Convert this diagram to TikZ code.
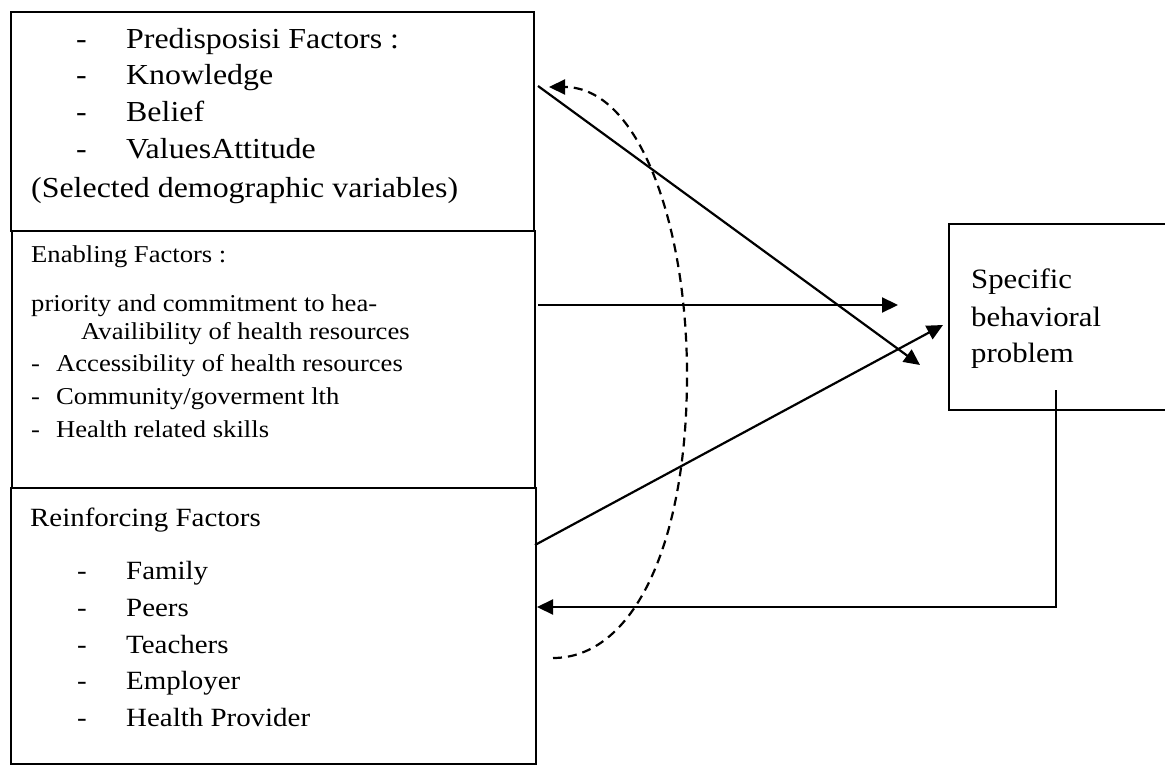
\documentclass[tikz,border=0pt]{standalone}
\usepackage{fontspec}
\setmainfont{Liberation Serif}[FakeStretch=1.1]
\usetikzlibrary{arrows.meta}
\tikzset{
  box/.style={draw, line width=1.6pt, inner sep=0pt, anchor=north west},
  frame/.style={line width=1.6pt},
  tA/.style={anchor=base west, inner sep=0pt, font=\fontsize{29}{34}\selectfont},
  tB/.style={anchor=base west, inner sep=0pt, font=\fontsize{24.2}{28}\selectfont},
  tC/.style={anchor=base west, inner sep=0pt, font=\fontsize{26.3}{30}\selectfont},
  tD/.style={anchor=base west, inner sep=0pt, font=\fontsize{28}{33}\selectfont},
  conn/.style={line width=2.2pt, -{Triangle[length=16pt,width=15pt]}},
  loopconn/.style={conn, dash pattern=on 9pt off 6pt}
}
\begin{document}
\begin{tikzpicture}[x=1pt,y=-1pt]
\useasboundingbox (0,0) rectangle (1165,765);
\fill[white] (0,0) rectangle (1165,765);
% boxes
\node[box, minimum width=523pt, minimum height=219pt] (pred) at (10,11) {};
\node[box, minimum width=523pt, minimum height=257pt] (enab) at (11,230) {};
\node[box, minimum width=525pt, minimum height=276pt] (reinf) at (10,487) {};
\draw[frame] (1165,224) -- (949,224) -- (949,410) -- (1165,410);
% predisposing texts
\node[tA] (pd1) at (76,49) {-};
\node[tA] (pt1) at (126,49) {Predisposisi Factors :};
\node[tA] (pd2) at (76,85) {-};
\node[tA] (pt2) at (126,85) {Knowledge};
\node[tA] (pd3) at (76,122) {-};
\node[tA] (pt3) at (126,122) {Belief};
\node[tA] (pd4) at (76,159) {-};
\node[tA] (pt4) at (126,159) {ValuesAttitude};
\node[tA] (pt5) at (31,197) {(Selected demographic variables)};
% enabling texts
\node[tB] (et1) at (31,262) {Enabling Factors :};
\node[tB] (et2) at (31,311) {priority and commitment to hea-};
\node[tB] (et3) at (81,339) {Availibility of health resources};
\node[tB] (ed4) at (31,371) {-};
\node[tB] (et4) at (56,371) {Accessibility of health resources};
\node[tB] (ed5) at (31,404) {-};
\node[tB] (et5) at (56,404) {Community/goverment lth};
\node[tB] (ed6) at (31,437) {-};
\node[tB] (et6) at (56,437) {Health related skills};
% reinforcing texts
\node[tC] (rt0) at (30,526) {Reinforcing Factors};
\node[tC] (rd1) at (77,579) {-};
\node[tC] (rt1) at (126,579) {Family};
\node[tC] (rd2) at (77,616) {-};
\node[tC] (rt2) at (126,616) {Peers};
\node[tC] (rd3) at (77,653) {-};
\node[tC] (rt3) at (126,653) {Teachers};
\node[tC] (rd4) at (77,689) {-};
\node[tC] (rt4) at (126,689) {Employer};
\node[tC] (rd5) at (77,726) {-};
\node[tC] (rt5) at (126,726) {Health Provider};
% problem box texts
\node[tD] (sp1) at (971,288) {Specific};
\node[tD] (sp2) at (971,326) {behavioral};
\node[tD] (sp3) at (971,362) {problem};
% connector ends
\coordinate (a1s) at (538,86);
\coordinate (a1e) at (920,365);
\coordinate (a2s) at (538,305);
\coordinate (a2e) at (898,305);
\coordinate (a3s) at (535,545);
\coordinate (a3e) at (943,325);
\coordinate (a4s) at (1056,390);
\coordinate (a4c) at (1056,607);
\coordinate (a4e) at (537,607);
\coordinate (lps) at (553,658);
\coordinate (lpm) at (687,375);
\coordinate (lpe) at (549,87);
% connectors
\draw[conn] (a1s) -- (a1e);
\draw[conn] (a2s) -- (a2e);
\draw[conn] (a3s) -- (a3e);
\draw[conn] (a4s) -- (a4c) -- (a4e);
\draw[loopconn] (lps) .. controls (633,658) and (687,545) .. (lpm)
  .. controls (687,225) and (639,87) .. (lpe);
\end{tikzpicture}
\end{document}
